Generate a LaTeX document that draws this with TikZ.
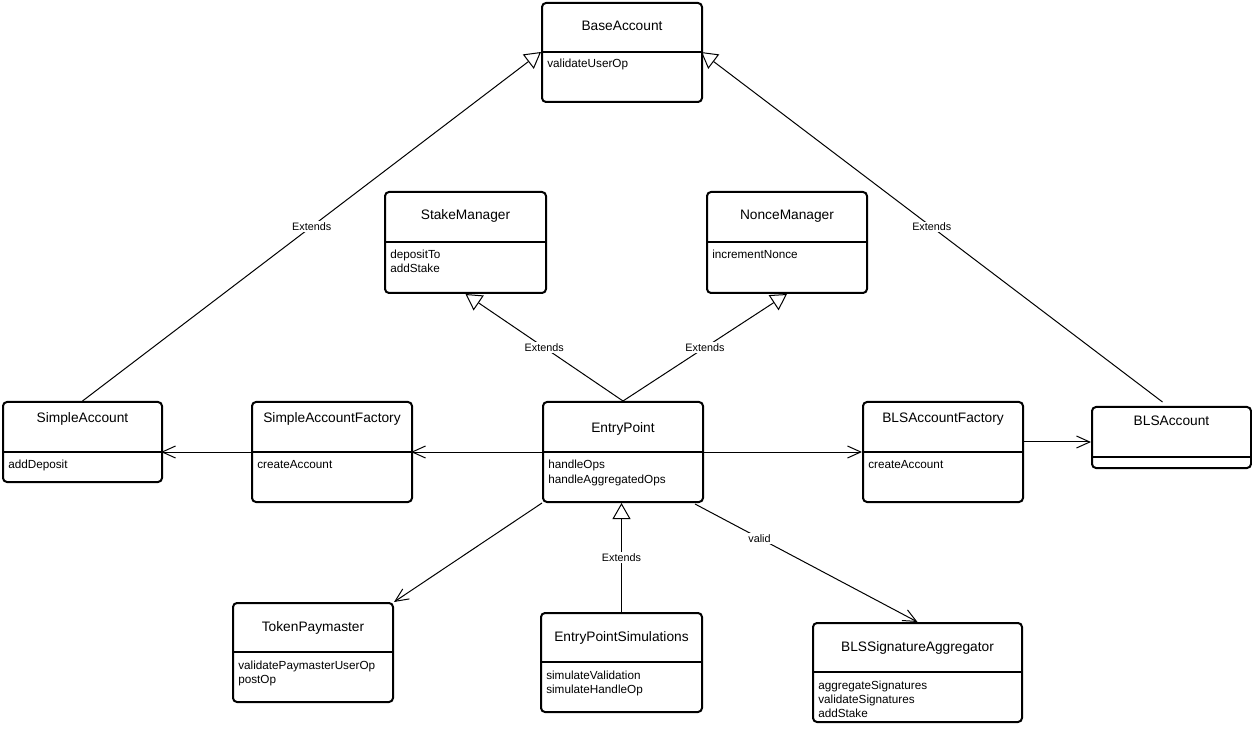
\documentclass[tikz,border=0pt]{standalone}
\usepackage{fontspec}
\setmainfont{Liberation Sans}
\usetikzlibrary{arrows.meta,calc}
\tikzset{
  cls/.style={draw, line width=1.5pt, rounded corners=3pt, inner sep=0pt, anchor=north west},
  div/.style={line width=1.5pt},
  ttl/.style={font=\fontsize{10.3}{12}\selectfont, anchor=base, inner sep=0pt},
  att/.style={font=\fontsize{8.8}{10.5}\selectfont, anchor=base west, inner sep=0pt},
  lbl/.style={font=\fontsize{8.1}{10}\selectfont, fill=white, inner sep=1pt},
  ext/.style={-{Triangle[open, length=12pt, width=13.5pt, line width=0.75pt]}, line width=0.75pt},
  assoc/.style={-{Straight Barb[length=10pt, width=9pt, line width=0.75pt]}, line width=0.75pt}
}
\newcommand\umlbox[6]{%
  \node[cls, minimum width={(#4-#2)*0.75pt}, minimum height={(#5-#3)*0.75pt}] (#1) at (#2,#3) {};
  \coordinate (#1-dl) at (#2,#6);
  \coordinate (#1-dr) at (#4,#6);
  \draw[div] (#1-dl) -- (#1-dr);}
\begin{document}
\begin{tikzpicture}[x=0.75pt, y=-0.75pt]
\useasboundingbox (0,0) rectangle (1252,730);

% classes
\umlbox{ba}{541}{2}{701}{101}{52}
\node[ttl] at ($(ba.north)+(0,29)$) {BaseAccount};
\node[att] at (547,68) {validateUserOp};

\umlbox{sm}{384}{191}{545}{292}{242}
\node[ttl] at ($(sm.north)+(0,29)$) {StakeManager};
\node[att] at (390,259) {depositTo};
\node[att] at (390,273) {addStake};

\umlbox{nm}{706}{191}{866}{292}{242}
\node[ttl] at ($(nm.north)+(0,29)$) {NonceManager};
\node[att] at (712,259) {incrementNonce};

\umlbox{sa}{2}{401}{161}{481}{452}
\node[ttl] at ($(sa.north)+(0,21)$) {SimpleAccount};
\node[att] at (8,469) {addDeposit};

\umlbox{saf}{251}{401}{411}{501}{452}
\node[ttl] at ($(saf.north)+(0,21)$) {SimpleAccountFactory};
\node[att] at (257,469) {createAccount};

\umlbox{ep}{542}{401}{702}{501}{452}
\node[ttl] at ($(ep.north)+(0,31)$) {EntryPoint};
\node[att] at (548,469) {handleOps};
\node[att] at (548,483) {handleAggregatedOps};

\umlbox{blsf}{862}{401}{1022}{501}{452}
\node[ttl] at ($(blsf.north)+(0,21)$) {BLSAccountFactory};
\node[att] at (868,469) {createAccount};

\umlbox{bla}{1091}{406}{1250}{467}{457}
\node[ttl] at ($(bla.north)+(0,20)$) {BLSAccount};

\umlbox{tp}{232}{602}{392}{701}{652}
\node[ttl] at ($(tp.north)+(0,29)$) {TokenPaymaster};
\node[att] at (238,669) {validatePaymasterUserOp};
\node[att] at (238,683) {postOp};

\umlbox{eps}{540}{612}{701}{711}{662}
\node[ttl] at ($(eps.north)+(0,29)$) {EntryPointSimulations};
\node[att] at (546,679) {simulateValidation};
\node[att] at (546,693) {simulateHandleOp};

\umlbox{agg}{812}{622}{1021}{721}{672}
\node[ttl] at ($(agg.north)+(0,29)$) {BLSSignatureAggregator};
\node[att] at (818,689) {aggregateSignatures};
\node[att] at (818,703) {validateSignatures};
\node[att] at (818,717) {addStake};

% connectors
\draw[ext] (sa.north) -- node[lbl] {Extends} (ba-dl);
\coordinate (blstop) at ($(bla.north)+(-9,-4)$);
\draw[ext] (blstop) -- node[lbl] {Extends} (ba-dr);
\draw[ext] (ep.north) -- node[lbl] {Extends} (sm.south);
\draw[ext] (ep.north) -- node[lbl] {Extends} (nm.south);
\draw[assoc] (ep-dl) -- (saf-dr);
\draw[assoc] (saf-dl) -- (sa-dr);
\draw[assoc] (ep-dr) -- (blsf-dl);
\coordinate (blsin) at ($(bla.north west)+(0,36)$);
\draw[assoc] (blsf.east |- blsin) -- (blsin);
\draw[assoc] (ep.south west) -- (tp.north east);
\draw[ext] (eps.north) -- node[lbl] {Extends} (eps.north |- ep.south);
\coordinate (epse) at ($(ep.south east)+(-9,1)$);
\draw[assoc] (epse) -- node[lbl, pos=0.29] {valid} (agg.north);
\end{tikzpicture}
\end{document}
